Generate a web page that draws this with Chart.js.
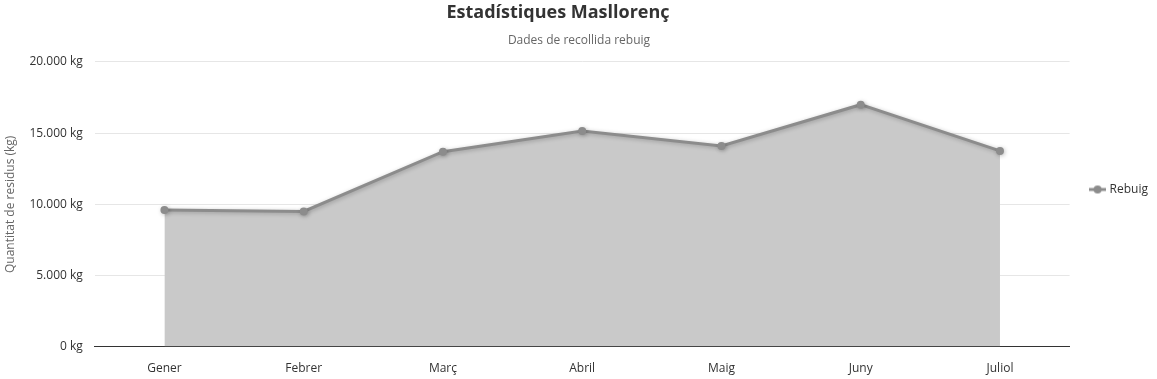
<!DOCTYPE html>
<html>
<head>
<meta charset="utf-8">
<script src="https://cdn.jsdelivr.net/npm/chart.js@4/dist/chart.umd.min.js"></script>
<style>
    html, body { margin: 0; padding: 0; background: #fff; }
    #wrap { width: 1157px; height: 379px; }
</style>
</head>
<body>
<div id="wrap"><canvas id="myChart" width="1157" height="379"></canvas></div>
<script>
const months = ['Gener', 'Febrer', 'Març', 'Abril', 'Maig', 'Juny', 'Juliol']
const rebuig = [9600, 9500, 13700, 15150, 14100, 17000, 13750]
const yTicks = [0, 5000, 10000, 15000, 20000]

const FONT = "'Open Sans', 'Noto Sans', sans-serif"

// legend symbol: short line with a dot, like the original
function legendSymbol() {
    const c = document.createElement('canvas')
    c.width = 17
    c.height = 10
    const g = c.getContext('2d')
    g.strokeStyle = '#8c8c8c'
    g.lineWidth = 3
    g.beginPath()
    g.moveTo(0, 5)
    g.lineTo(17, 5)
    g.stroke()
    g.fillStyle = '#8c8c8c'
    g.beginPath()
    g.arc(8.5, 5, 4, 0, Math.PI * 2)
    g.fill()
    return c
}

const lineShadow = {
    id: 'lineShadow',
    beforeDatasetDraw(chart) {
        chart.ctx.save()
        chart.ctx.shadowColor = 'rgba(0,0,0,0.25)'
        chart.ctx.shadowBlur = 4
        chart.ctx.shadowOffsetX = 1
        chart.ctx.shadowOffsetY = 1
    },
    afterDatasetDraw(chart) {
        chart.ctx.restore()
    }
}

// original centres the titles a bit left of the canvas middle
const titleShift = {
    id: 'titleShift',
    afterLayout(chart) {
        [chart.titleBlock, chart.$subtitle].forEach(b => {
            if (b) { b.left = 0; b.right = 1116 }
        })
    }
}

const fmt = v => v.toString().replace(/\B(?=(\d{3})+(?!\d))/g, '.') + ' kg'

new Chart(document.getElementById('myChart').getContext('2d'), {
    type: 'line',
    data: {
        labels: months,
        datasets: [{
            label: 'Rebuig',
            data: rebuig,
            fill: 'origin',
            backgroundColor: '#c9c9c9',
            borderColor: '#8c8c8c',
            borderWidth: 3,
            tension: 0,
            pointRadius: 4,
            pointBackgroundColor: '#8c8c8c',
            pointBorderWidth: 0
        }]
    },
    plugins: [lineShadow, titleShift],
    options: {
        responsive: false,
        animation: false,
        layout: { padding: { left: 0, right: -1, top: 0, bottom: 0 } },
        plugins: {
            title: {
                display: true,
                text: 'Estadístiques Masllorenç',
                color: '#333',
                font: { family: FONT, size: 18, weight: 'bold' },
                padding: { top: 2, bottom: 10 }
            },
            subtitle: {
                display: true,
                text: 'Dades de recollida rebuig',
                color: '#666',
                font: { family: FONT, size: 12 },
                padding: { top: 0, bottom: 14 }
            },
            legend: {
                position: 'right',
                labels: {
                    usePointStyle: true,
                    pointStyle: legendSymbol(),
                    color: '#333',
                    font: { family: FONT, size: 12 },
                    padding: 22
                }
            },
            tooltip: { enabled: false }
        },
        scales: {
            x: {
                offset: true,
                afterFit: axis => { axis.height -= 12 },
                grid: { display: false, drawTicks: false },
                border: { display: true, color: '#333', width: 1 },
                ticks: { color: '#333', font: { family: FONT, size: 12 }, padding: 15 }
            },
            y: {
                min: 0,
                max: 20000,
                afterBuildTicks: axis => { axis.ticks = yTicks.map(v => ({ value: v })) },
                grid: { color: '#e6e6e6', drawTicks: false },
                border: { display: false },
                ticks: { color: '#333', font: { family: FONT, size: 12 }, padding: 12, callback: v => fmt(v) },
                title: {
                    display: true,
                    text: 'Quantitat de residus (kg)',
                    color: '#666',
                    font: { family: FONT, size: 12 },
                    padding: { top: 3, bottom: 0 }
                }
            }
        }
    }
})
</script>
</body>
</html>
